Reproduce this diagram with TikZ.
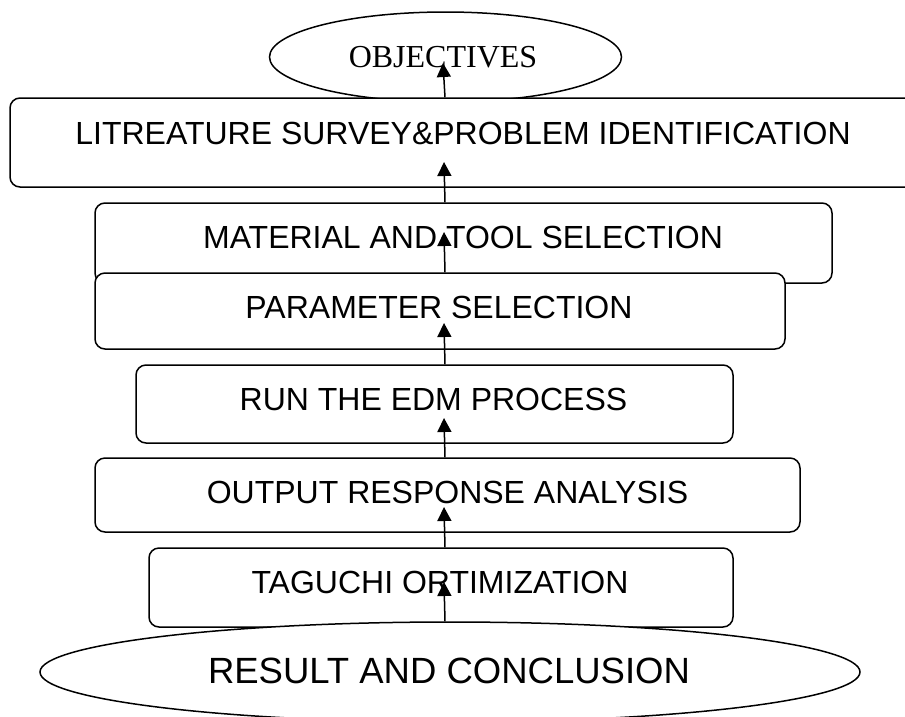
\documentclass[tikz,border=0pt]{standalone}
\usepackage{fontspec}
\setmainfont{Liberation Serif}
\setsansfont{Liberation Sans}
\usetikzlibrary{shapes.geometric,arrows.meta}
\begin{document}
\begin{tikzpicture}[x=1pt,y=-1pt,
  box/.style={draw, line width=1.5pt, rounded corners=10pt, fill=white, inner sep=0pt},
  oval/.style={draw, line width=1.5pt, ellipse, fill=white, inner sep=0pt},
  lbl/.style={anchor=base, inner sep=0pt, font=\sffamily\fontsize{32}{38}\selectfont},
  arr/.style={line width=1.5pt, -{Triangle[length=14pt,width=14pt]}}]
\useasboundingbox (0,0) rectangle (905,716);
\clip (0,0) rectangle (905,716);
\fill[white] (0,0) rectangle (905,716);
\coordinate (ax) at (445,0);
% shapes
\node[oval, minimum width=352pt, minimum height=90pt] (obj) at (445.5,57) {};
\node[box, minimum width=906pt, minimum height=89pt] (lit) at (463,142.5) {};
\node[box, minimum width=737pt, minimum height=80pt] (mat) at (463.5,243) {};
\node[box, minimum width=690pt, minimum height=76pt] (par) at (440,311) {};
\node[box, minimum width=597pt, minimum height=78pt] (run) at (434.5,404) {};
\node[box, minimum width=705pt, minimum height=74pt] (out) at (447.5,495) {};
\node[box, minimum width=584pt, minimum height=79pt] (tag) at (441,587.5) {};
\node[oval, minimum width=820pt, minimum height=100pt] (res) at (450,672) {};
% texts
\node[anchor=base, inner sep=0pt, font=\rmfamily\fontsize{32}{38}\selectfont] (tobj) at (443,67) {OBJECTIVES};
\node[lbl] (tlit) at (463,144) {LITREATURE SURVEY\&PROBLEM IDENTIFICATION};
\node[lbl] (tmat) at (463,248) {MATERIAL AND TOOL SELECTION};
\node[lbl] (tpar) at (439,318) {PARAMETER SELECTION};
\node[lbl] (trun) at (433.5,410) {RUN THE EDM PROCESS};
\node[lbl] (tout) at (447.5,503) {OUTPUT RESPONSE ANALYSIS};
\node[lbl] (ttag) at (440,593) {TAGUCHI ORTIMIZATION};
\node[anchor=base, inner sep=0pt, font=\sffamily\fontsize{36.5}{42}\selectfont] (tres) at (449,683) {RESULT AND CONCLUSION};
% arrow tips
\coordinate (p1) at (444,582);
\coordinate (p2) at (444,507);
\coordinate (p3) at (444,418);
\coordinate (p4) at (444,323);
\coordinate (p5) at (444,232);
\coordinate (p6) at (444,162);
\coordinate (p7) at (443,63);
% arrows
\draw[arr] (res.north -| ax) -- (p1);
\draw[arr] (tag.north -| ax) -- (p2);
\draw[arr] (out.north -| ax) -- (p3);
\draw[arr] (run.north -| ax) -- (p4);
\draw[arr] (par.north -| ax) -- (p5);
\draw[arr] (mat.north -| ax) -- (p6);
\draw[arr] (lit.north -| ax) -- (p7);
\end{tikzpicture}
\end{document}
